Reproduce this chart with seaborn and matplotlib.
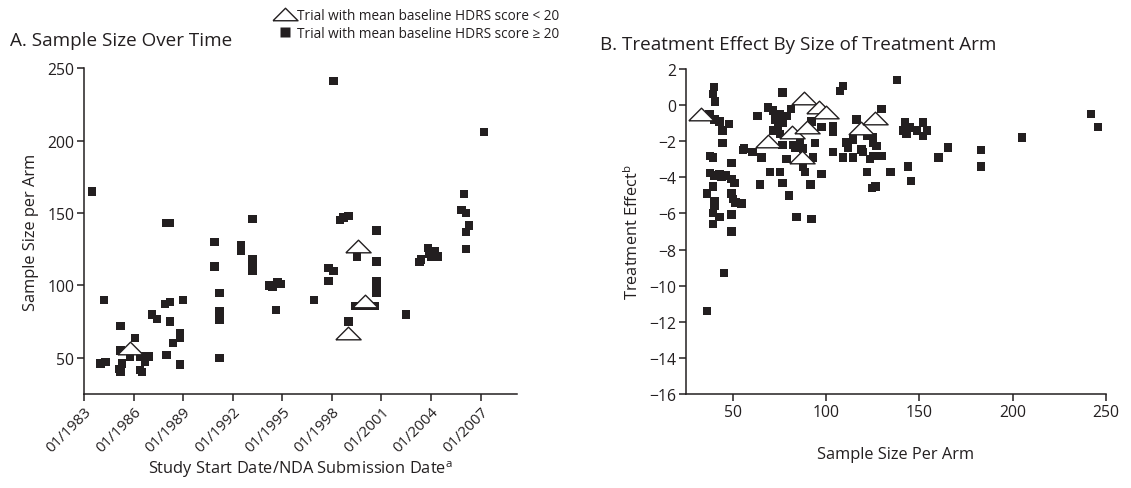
import numpy as np
import pandas as pd
import matplotlib
matplotlib.use("Agg")
import matplotlib.pyplot as plt
from matplotlib.lines import Line2D
import seaborn as sns

# ---------------- data ----------------
# Panel A: trials with baseline HDRS >= 20 (squares)
a_sq_year = [1983.5, 1984.2, 1984.0, 1984.3, 1985.2, 1985.2, 1985.3, 1985.1, 1985.2,
             1985.8, 1986.1, 1986.4, 1986.9, 1986.7, 1986.4, 1986.5, 1987.1, 1987.4,
             1987.9, 1988.2, 1988.0, 1988.2, 1988.2, 1988.0, 1988.4, 1988.8, 1988.8,
             1988.8, 1989.0, 1990.9, 1990.9, 1991.2, 1991.2, 1991.2, 1991.2, 1991.2,
             1992.5, 1992.5, 1993.2, 1993.2, 1993.2, 1993.2, 1994.2, 1994.4, 1994.7,
             1994.9, 1994.6, 1996.9,
             1998.1, 2007.2, 2006.0, 2005.85, 2006.1, 2006.3, 2006.1, 2006.1,
             1997.8, 1998.1, 1997.8, 1998.5, 1998.7, 1999.0, 2000.7, 1999.5, 2000.7,
             2000.7, 2000.7, 2000.7, 1999.4, 1999.8, 2000.2, 2000.6, 1999.0, 2002.5,
             2003.8, 2003.9, 2004.2, 2004.4, 2003.3, 2003.4, 2004.0]
a_sq_size = [165, 90, 46, 47, 72, 55, 46, 42.5, 40.5,
             50.7, 63.5, 51, 51, 47, 41.5, 40.3, 80, 76.6,
             87, 88.6, 143, 143, 75, 52, 60.3, 67, 64,
             45.4, 90, 130, 113, 95, 82, 78, 76, 50,
             128, 124, 146, 118, 113, 110, 100, 99, 102,
             101, 83, 90,
             241, 206, 163, 152, 150, 141.5, 137, 125,
             112, 110, 103, 145.4, 147, 148, 138, 120, 116.6,
             103, 99, 95, 86, 86, 86, 86, 75, 80,
             126, 122, 124, 120, 116, 118, 120]
# Panel A: trials with baseline HDRS < 20 (triangles)
a_tri_year = [1985.8, 1999.6, 2000.0, 1999.0]
a_tri_size = [57, 127, 89, 67]

# Panel B: squares (sample size per arm, treatment effect)
b_sq_n = [40, 39.5, 40.5, 37.6, 40.2, 43, 48, 44.5, 44.5, 55.7, 37.7, 39.4, 49.3, 37.7,
          40.3, 43, 44, 46.6, 49.3, 51, 39.4, 36.4, 40.3, 40.3, 49.3, 50.2, 51.6, 54.7,
          39.4, 43, 39.4, 49.3, 49.3, 45.3, 36.4,
          56.1, 60.6, 65.4, 63.3, 76.7, 69, 71.6, 75.2, 81.1, 72.5, 74.3, 71.6, 77, 75.2,
          78.8, 64.5, 69.9, 75.2, 76.7, 80.1, 76.7, 82.4, 78.8, 84.2, 92.2, 87.7, 88.6,
          91.7, 93.1, 94, 97.6, 86, 87.7, 83.3, 103.8, 103.8, 103.8, 97.6, 92.2, 107.4,
          109.2, 116.4, 109.2, 114.6,
          137.9, 129.8, 142.3, 145, 152.1, 143.2, 148.6, 152.1, 154, 141.4, 165.5, 160.2,
          143.8, 145.5, 134.6, 122.1, 124.5, 126.6, 111, 114.6, 111.9, 119, 119.9, 125.3,
          127.1, 123.5, 125.3, 129.8, 121.8, 125.3, 242, 245.7, 205, 183.1, 183.1]
b_sq_eff = [1.0, 0.6, 0.2, -0.5, -0.8, -0.9, -1.05, -1.4, -2.1, -2.5, -2.8, -2.9, -3.2, -3.75,
            -3.9, -3.85, -3.95, -3.9, -4.1, -4.3, -4.5, -4.9, -5.3, -5.6, -4.9, -5.2, -5.4, -5.45,
            -5.96, -6.2, -6.6, -6.05, -7.0, -9.3, -11.4,
            -2.4, -2.6, -2.9, -0.6, 0.7, -0.13, -0.3, -0.5, -0.2, -0.8, -1.15, -1.4, -0.96, -1.6,
            -0.6, -4.4, -3.7, -3.7, -4.3, -5.0, -2.2, -2.2, -3.0, -6.2, -6.3, -3.4, -3.7,
            -4.4, -2.9, -2.1, -3.8, -2.1, -2.4, -2.35, -1.15, -1.5, -2.6, -1.2, -0.9, 0.8,
            1.07, -0.8, -2.9, -2.9,
            1.4, -0.2, -0.96, -1.24, -0.96, -1.6, -1.4, -1.7, -1.4, -1.4, -2.35, -2.9,
            -3.4, -4.2, -3.7, -3.7, -4.6, -4.5, -2.07, -1.9, -2.35, -2.45, -2.6, -2.07,
            -2.26, -3.0, -2.8, -2.8, -1.7, -1.8, -0.5, -1.2, -1.8, -2.5, -3.4]
# Panel B: triangles
b_tri_n = [33, 69, 82, 88, 90, 87, 96, 100, 119, 126]
b_tri_eff = [-0.5, -2.0, -1.5, 0.4, -1.2, -2.9, -0.1, -0.4, -1.25, -0.7]

a_xticks = [1983, 1986, 1989, 1992, 1995, 1998, 2001, 2004, 2007]
a_xticklabels = ["01/%d" % y for y in a_xticks]
a_yticks = [50, 100, 150, 200, 250]
b_xticks = [50, 100, 150, 200, 250]
b_yticks = list(range(2, -17, -2))

legend_labels = ["Trial with mean baseline HDRS score < 20",
                 "Trial with mean baseline HDRS score \u2265 20"]

# ---------------- style ----------------
sns.set_theme(style="ticks")
plt.rcParams['font.family'] = ['Open Sans', 'DejaVu Sans']
plt.rcParams['mathtext.fontset'] = 'custom'
plt.rcParams['mathtext.rm'] = 'Open Sans'
plt.rcParams['axes.edgecolor'] = '#231f20'
plt.rcParams['axes.linewidth'] = 1.1
plt.rcParams['xtick.color'] = '#231f20'
plt.rcParams['ytick.color'] = '#231f20'

INK = '#231f20'
tri_marker = [(-1, -0.5), (1, -0.5), (0, 0.5), (-1, -0.5)]

fig = plt.figure(figsize=(11.31, 4.89), dpi=100)
H = 489.0
W = 1131.0
axA = fig.add_axes([84 / W, 1 - 395 / H, (517 - 84) / W, (395 - 69.3) / H])
axB = fig.add_axes([686 / W, 1 - 395 / H, (1106 - 686) / W, (395 - 70) / H])

dfA_sq = pd.DataFrame({"year": a_sq_year, "size": a_sq_size})
dfA_tri = pd.DataFrame({"year": a_tri_year, "size": a_tri_size})
dfB_sq = pd.DataFrame({"n": b_sq_n, "eff": b_sq_eff})
dfB_tri = pd.DataFrame({"n": b_tri_n, "eff": b_tri_eff})

sq_s = 36
tri_s = 330

sns.scatterplot(data=dfA_sq, x="year", y="size", ax=axA, marker="s", s=sq_s,
                color=INK, edgecolor="none", linewidth=0, zorder=3)
sns.scatterplot(data=dfA_tri, x="year", y="size", ax=axA, marker=tri_marker, s=tri_s,
                facecolor="white", edgecolor=INK, linewidth=1.0, zorder=4)
sns.scatterplot(data=dfB_sq, x="n", y="eff", ax=axB, marker="s", s=sq_s,
                color=INK, edgecolor="none", linewidth=0, zorder=3)
sns.scatterplot(data=dfB_tri, x="n", y="eff", ax=axB, marker=tri_marker, s=tri_s,
                facecolor="white", edgecolor=INK, linewidth=1.0, zorder=4)

TICK_FS = 11.3
LAB_FS = 11.8

# Panel A axes
axA.set_xlim(1983, 2009.2)
axA.set_ylim(25, 250)
axA.set_xticks(a_xticks)
axA.set_xticklabels(a_xticklabels, rotation=45, ha="right", rotation_mode="anchor",
                    fontsize=10.8, color=INK)
axA.set_yticks(a_yticks)
axA.tick_params(axis="y", labelsize=TICK_FS, length=5, width=1.1, pad=2)
axA.tick_params(axis="x", length=5, width=1.1, pad=2)
axA.set_xlabel("Study Start Date/NDA Submission Date$^{\\mathrm{a}}$", fontsize=LAB_FS,
               color=INK, labelpad=3)
axA.set_ylabel("Sample Size per Arm", fontsize=LAB_FS, color=INK, labelpad=6)

# Panel B axes
axB.set_xlim(25, 250)
axB.set_ylim(-16, 2)
axB.set_xticks(b_xticks)
axB.set_yticks(b_yticks)
axB.tick_params(axis="both", labelsize=TICK_FS, length=5, width=1.1, pad=2)
axB.set_xlabel("Sample Size Per Arm", fontsize=LAB_FS, color=INK, labelpad=19)
axB.set_ylabel("Treatment Effect$^{\\mathrm{b}}$", fontsize=LAB_FS, color=INK, labelpad=5)

for ax in (axA, axB):
    sns.despine(ax=ax)
    for lbl in ax.get_xticklabels() + ax.get_yticklabels():
        lbl.set_color(INK)

fig.text(10 / W, 1 - 46 / H, "A. Sample Size Over Time", fontsize=13.6, color=INK,
         ha="left", va="baseline")
fig.text(600 / W, 1 - 50 / H, "B. Treatment Effect By Size of Treatment Arm", fontsize=13.6,
         color=INK, ha="left", va="baseline")

handles = [Line2D([], [], linestyle="none", marker=tri_marker, markersize=18,
                  markerfacecolor="white", markeredgecolor=INK, markeredgewidth=1.0),
           Line2D([], [], linestyle="none", marker="s", markersize=6.5,
                  markerfacecolor=INK, markeredgecolor="none")]
fig.legend(handles, legend_labels, loc="upper left", bbox_to_anchor=(274 / W, 1 - 9 / H),
           frameon=False, fontsize=9.8, handletextpad=0.1, labelspacing=0.2,
           borderaxespad=0, borderpad=0, handlelength=1.6, labelcolor=INK)

fig.savefig("out.png", dpi=100)
